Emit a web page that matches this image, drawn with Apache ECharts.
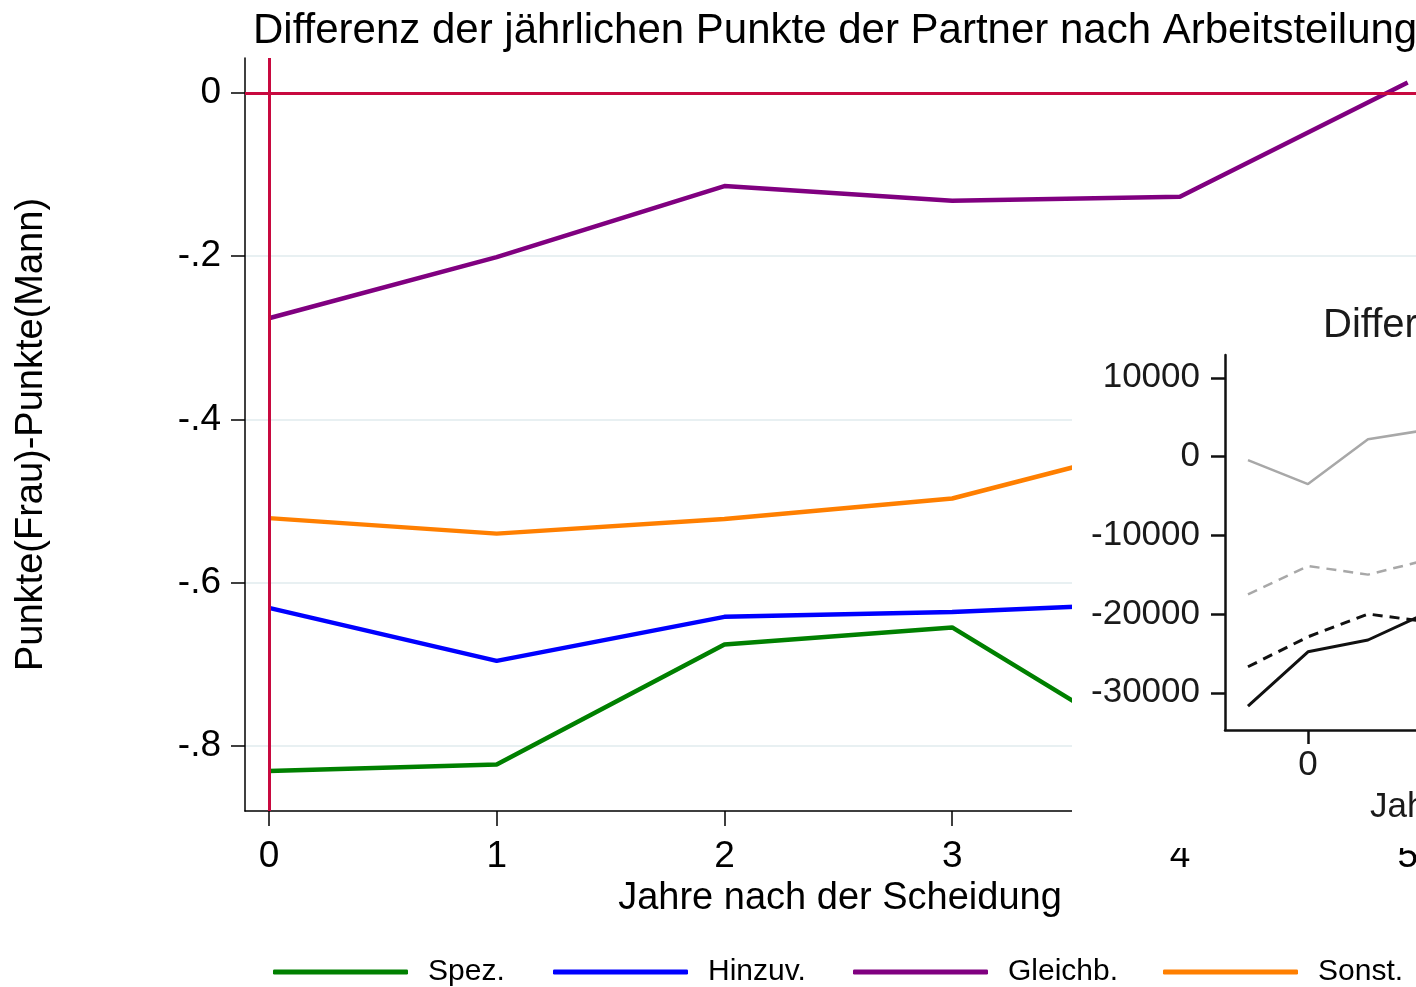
<!DOCTYPE html>
<html>
<head>
<meta charset="utf-8">
<script src="https://cdn.jsdelivr.net/npm/echarts@6/dist/echarts.min.js"></script>
<style>html,body{margin:0;padding:0;background:#fff;}#c{width:1416px;height:987px;}</style>
</head>
<body>
<div id="c"></div>
<script>
// ---- main chart data ----
const years = [0, 1, 2, 3, 4, 5];
const seriesNames = ['Spez.', 'Hinzuv.', 'Gleichb.', 'Sonst.'];
const spez    = [-0.831, -0.823, -0.676, -0.655, -0.825, -0.800];
const hinzuv  = [-0.631, -0.696, -0.642, -0.636, -0.624, -0.620];
const gleichb = [-0.276, -0.201, -0.114, -0.132, -0.127, 0.013];
const sonst   = [-0.521, -0.540, -0.522, -0.497, -0.425, -0.430];
const yTickValues = [0, -0.2, -0.4, -0.6, -0.8];
const yTickLabels = ['0', '-.2', '-.4', '-.6', '-.8'];
const xTickValues = [0, 1, 2, 3, 4, 5];

// ---- inset data ----
const insetYears = [-1, 0, 1, 2];
const insetGraySolid  = [-450, -3500, 2200, 3400];
const insetGrayDash   = [-17500, -13900, -15000, -13100];
const insetBlackDash  = [-26700, -22900, -20000, -21000];
const insetBlackSolid = [-31700, -24800, -23300, -19800];
const insetYTicks = [10000, 0, -10000, -20000, -30000];
const insetGridValues = [-10000, -20000, -30000];
const insetXTicks = [0];

const FF = 'Liberation Sans, Arial, sans-serif';
const colors = ['#008000', '#0000ff', '#800080', '#ff7f00'];
const mainData = [spez, hinzuv, gleichb, sonst];

const chart = echarts.init(document.getElementById('c'));

const mainSeries = mainData.map((arr, i) => ({
  name: seriesNames[i],
  type: 'line',
  xAxisIndex: 0, yAxisIndex: 0,
  data: years.map((x, j) => [x, arr[j]]),
  showSymbol: false,
  color: colors[i],
  itemStyle: { color: colors[i] },
  lineStyle: { color: colors[i], width: 4.5 },
  z: 3,
  silent: true
}));

const pair = (xs, ys) => xs.map((x, j) => [x, ys[j]]);

const option = {
  animation: false,
  backgroundColor: '#fff',
  title: [
    { text: 'Differenz der jährlichen Punkte der Partner nach Arbeitsteilung',
      left: 248, top: 5,
      textStyle: { fontFamily: FF, fontSize: 42, fontWeight: 'normal', color: '#000' } },
    { text: 'Differenz', left: 1318, top: 301, z: 40,
      textStyle: { fontFamily: FF, fontSize: 40, fontWeight: 'normal', color: '#1a1a1a' } }
  ],
  legend: seriesNames.map((n, i) => ({
    data: [n],
    left: [268, 548, 848, 1158][i],
    top: 952,
    itemWidth: 135, itemHeight: 5, icon: 'roundRect',
    selectedMode: false,
    textStyle: { fontFamily: FF, fontSize: 30, color: '#000', padding: [0, 0, 0, 15] }
  })),
  grid: [
    { left: 245, top: 58, width: 1190, height: 753, containLabel: false, outerBoundsMode: 'none' },
    { left: 1225, top: 355, width: 233, height: 375, containLabel: false, outerBoundsMode: 'none', z: 30 }
  ],
  xAxis: [
    { type: 'value', gridIndex: 0, min: -0.105, max: 5.12,
      name: 'Jahre nach der Scheidung', nameLocation: 'middle', nameGap: 60,
      nameTextStyle: { fontFamily: FF, fontSize: 38, color: '#000' },
      axisLine: { show: true, onZero: false, lineStyle: { color: '#000', width: 1.5 } },
      axisTick: { show: true, length: 15, customValues: xTickValues, lineStyle: { color: '#000', width: 1.5 } },
      axisLabel: { show: true, customValues: xTickValues, margin: 27, fontFamily: FF, fontSize: 37, color: '#000' },
      splitLine: { show: false } },
    { type: 'value', gridIndex: 1, min: -1.383, max: 2.5, z: 30,
      axisLine: { show: true, onZero: false, lineStyle: { color: '#111', width: 2.5 } },
      axisTick: { show: true, length: 14, customValues: insetXTicks, lineStyle: { color: '#111', width: 2.5 } },
      axisLabel: { show: true, customValues: insetXTicks, margin: 18, fontFamily: FF, fontSize: 35, color: '#1a1a1a',
        formatter: v => String(v) },
      splitLine: { show: false } }
  ],
  yAxis: [
    { type: 'value', gridIndex: 0, min: -0.88, max: 0.043,
      name: 'Punkte(Frau)-Punkte(Mann)', nameLocation: 'middle', nameGap: 194, nameRotate: 90,
      nameTextStyle: { fontFamily: FF, fontSize: 38, color: '#000' },
      axisLine: { show: true, onZero: false, lineStyle: { color: '#000', width: 1.5 } },
      axisTick: { show: true, length: 14, customValues: yTickValues, lineStyle: { color: '#000', width: 1.5 } },
      axisLabel: { show: true, customValues: yTickValues, margin: 24, fontFamily: FF, fontSize: 37, color: '#000',
        formatter: v => { const k = yTickValues.findIndex(t => Math.abs(t - v) < 1e-9); return k >= 0 ? yTickLabels[k] : ''; } },
      splitLine: { show: true, lineStyle: { color: '#e8f0f2', width: 2 } } },
    { type: 'value', gridIndex: 1, min: -34730, max: 12890, z: 30,
      axisLine: { show: true, onZero: false, lineStyle: { color: '#111', width: 2.5 } },
      axisTick: { show: true, length: 14, customValues: insetYTicks, lineStyle: { color: '#111', width: 2.5 } },
      axisLabel: { show: true, customValues: insetYTicks, margin: 25, fontFamily: FF, fontSize: 35, color: '#1a1a1a',
        formatter: v => String(v) },
      splitLine: { show: false } }
  ],
  graphic: [
    { type: 'rect', z: 20, silent: true, shape: { x: 1072, y: 275, width: 400, height: 573 }, style: { fill: '#fff' } },
    { type: 'text', z: 40, silent: true, x: 1370, y: 790,
      style: { text: 'Jahre nach der Scheidung', font: '35px ' + FF, fill: '#1a1a1a' } }
  ],
  series: [
    { name: 'ref', type: 'line', xAxisIndex: 0, yAxisIndex: 0, data: [], z: 2, silent: true,
      markLine: { silent: true, symbol: ['none', 'none'], label: { show: false },
        lineStyle: { color: '#c8093f', width: 3, type: 'solid' },
        data: [{ yAxis: 0 }, { xAxis: 0 }] } },
    ...mainSeries,
    { name: 'insetref', type: 'line', xAxisIndex: 1, yAxisIndex: 1, data: [], z: 30, silent: true,
      markLine: { silent: true, symbol: ['none', 'none'], label: { show: false },
        data: insetGridValues.map(v => ({ yAxis: v, lineStyle: { color: '#e3e3e3', width: 2, type: 'solid' } }))
          .concat([{ yAxis: 0, lineStyle: { color: '#111', width: 2.5, type: 'solid' } }]) } },
    { name: 'in1', type: 'line', xAxisIndex: 1, yAxisIndex: 1, z: 31, silent: true, showSymbol: false,
      data: pair(insetYears, insetGraySolid), lineStyle: { color: '#a8a8a8', width: 2.5 } },
    { name: 'in2', type: 'line', xAxisIndex: 1, yAxisIndex: 1, z: 31, silent: true, showSymbol: false,
      data: pair(insetYears, insetGrayDash), lineStyle: { color: '#a8a8a8', width: 2.5, type: [10, 7] } },
    { name: 'in3', type: 'line', xAxisIndex: 1, yAxisIndex: 1, z: 31, silent: true, showSymbol: false,
      data: pair(insetYears, insetBlackDash), lineStyle: { color: '#111', width: 3, type: [10, 7] } },
    { name: 'in4', type: 'line', xAxisIndex: 1, yAxisIndex: 1, z: 31, silent: true, showSymbol: false,
      data: pair(insetYears, insetBlackSolid), lineStyle: { color: '#111', width: 3 } }
  ]
};
chart.setOption(option);
</script>
</body>
</html>
